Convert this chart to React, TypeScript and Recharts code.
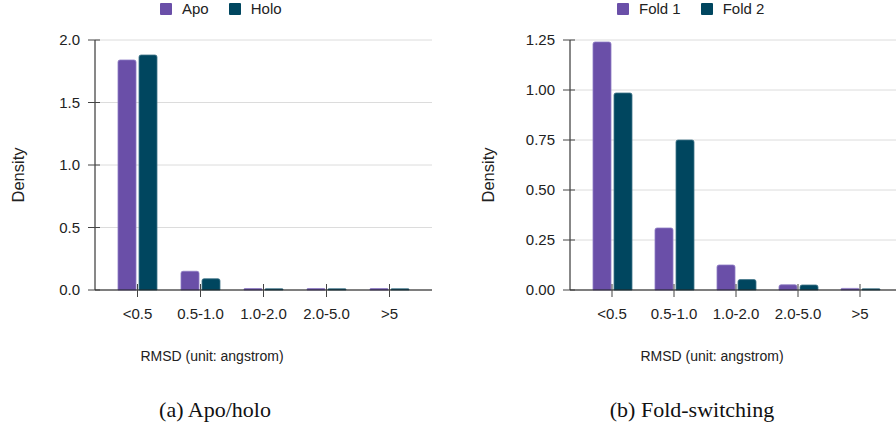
import React from "react"
import { BarChart, Bar, XAxis, YAxis, CartesianGrid, Legend } from "recharts"

const categories = ["<0.5", "0.5-1.0", "1.0-2.0", "2.0-5.0", ">5"]

// (a) apo / holo
const apo = [1.84, 0.15, 0.012, 0.012, 0.012]
const holo = [1.88, 0.09, 0.01, 0.01, 0.01]
const apoHoloTicks = [0, 0.5, 1, 1.5, 2]

// (b) fold-switching
const fold1 = [1.24, 0.31, 0.125, 0.026, 0.008]
const fold2 = [0.985, 0.75, 0.052, 0.025, 0.006]
const foldTicks = [0, 0.25, 0.5, 0.75, 1, 1.25]

const PURPLE = "#6a4fa8"
const TEAL = "#00465f"
const SANS = '"Liberation Sans", Arial, sans-serif'
const SERIF = '"Liberation Serif", "Times New Roman", serif'

function XTick({ x, y, payload }: any) {
  return (
    <g>
      <line x1={x} x2={x} y1={y - 6} y2={y + 7} stroke="#444" />
      <text x={x} y={y + 29} textAnchor="middle" fontFamily={SANS} fontSize={15} fill="#222">
        {payload.value}
      </text>
    </g>
  )
}

function YTick({ x, y, payload, digits }: any) {
  return (
    <g>
      <line x1={x - 7} x2={x + 5} y1={y} y2={y} stroke="#444" />
      <text x={x - 15} y={y} dy="0.36em" textAnchor="end" fontFamily={SANS} fontSize={15} fill="#222">
        {Number(payload.value).toFixed(digits)}
      </text>
    </g>
  )
}

function legendContent(props: any) {
  const items = props.payload || []
  return (
    <div style={{ display: "flex", alignItems: "center", fontFamily: SANS, fontSize: 15, color: "#222", lineHeight: "18px" }}>
      {items.map((it: any, i: number) => (
        <div key={it.value} style={{ display: "flex", alignItems: "center", marginLeft: i ? 20 : 0 }}>
          <span style={{ display: "inline-block", width: 12, height: 12, background: it.color, marginRight: 10, borderRadius: 1 }} />
          <span>{it.value}</span>
        </div>
      ))}
    </div>
  )
}

interface PanelProps {
  left: number
  width: number
  plotRight: number
  a: number[]
  b: number[]
  names: string[]
  ticks: number[]
  digits: number
  legendLeft: number
  densityX: number
  rmsdX: number
  caption: string
  captionX: number
}

function Panel(p: PanelProps) {
  const data = categories.map((c, i) => ({ name: c, a: p.a[i], b: p.b[i] }))
  return (
    <div style={{ position: "absolute", left: p.left, top: 0 }}>
      <BarChart
        width={p.width}
        height={400}
        data={data}
        margin={{ top: 40, right: p.width - p.plotRight, bottom: 0, left: 0 }}
        barSize={18}
        barGap={3}
      >
        <CartesianGrid vertical={false} stroke="#dcdcdc" />
        <Legend
          verticalAlign="middle"
          wrapperStyle={{ top: 0, left: p.legendLeft, width: 260, height: 18 }}
          content={legendContent}
        />
        <Bar dataKey="a" name={p.names[0]} fill={PURPLE} stroke="#8e7cc4" strokeWidth={0.8} radius={[2, 2, 0, 0]} isAnimationActive={false} />
        <Bar dataKey="b" name={p.names[1]} fill={TEAL} stroke="#3f7488" strokeWidth={0.8} radius={[2, 2, 0, 0]} isAnimationActive={false} />
        <XAxis
          dataKey="name"
          height={110}
          interval={0}
          padding={{ left: 11, right: 11 }}
          tickSize={0}
          tickMargin={0}
          tickLine={false}
          axisLine={{ stroke: "#111" }}
          tick={<XTick />}
          label={{
            content: () => (
              <text x={p.rmsdX} y={361} textAnchor="middle" fontFamily={SANS} fontSize={14} fill="#222">
                RMSD (unit: angstrom)
              </text>
            ),
          }}
        />
        <YAxis
          width={95}
          domain={[0, p.ticks[p.ticks.length - 1]]}
          ticks={p.ticks}
          tickSize={0}
          tickMargin={0}
          tickLine={false}
          axisLine={{ stroke: "#111" }}
          tick={<YTick digits={p.digits} />}
          label={{
            content: () => (
              <text
                x={p.densityX}
                y={175}
                dy="0.36em"
                transform={`rotate(-90 ${p.densityX} 175)`}
                textAnchor="middle"
                fontFamily={SANS}
                fontSize={16.5}
                fill="#222"
              >
                Density
              </text>
            ),
          }}
        />
      </BarChart>
      <div
        style={{
          position: "absolute",
          left: p.captionX - 150,
          width: 300,
          top: 397,
          textAlign: "center",
          fontFamily: SERIF,
          fontSize: 22,
          lineHeight: "26px",
          color: "#111",
        }}
      >
        {p.caption}
      </div>
    </div>
  )
}

export default function App() {
  return (
    <div style={{ position: "fixed", left: 0, top: 0, width: 896, height: 429, overflow: "hidden", background: "#fff" }}>
      <Panel
        left={0}
        width={440}
        plotRight={432}
        a={apo}
        b={holo}
        names={["Apo", "Holo"]}
        ticks={apoHoloTicks}
        digits={1}
        legendLeft={160}
        densityX={18}
        rmsdX={212}
        caption="(a) Apo/holo"
        captionX={215}
      />
      <Panel
        left={475}
        width={440}
        plotRight={427}
        a={fold1}
        b={fold2}
        names={["Fold 1", "Fold 2"]}
        ticks={foldTicks}
        digits={2}
        legendLeft={142}
        densityX={13}
        rmsdX={237}
        caption="(b) Fold-switching"
        captionX={217}
      />
    </div>
  )
}
